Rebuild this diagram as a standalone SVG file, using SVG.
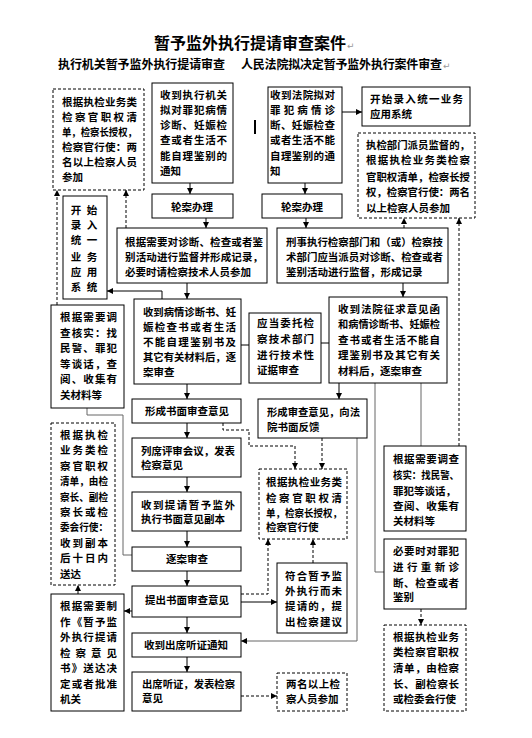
<svg xmlns="http://www.w3.org/2000/svg" width="532" height="738" viewBox="0 0 532 738">
<style>
.box{fill:#fff;stroke:#000;stroke-width:1}
.dbox{fill:#fff;stroke:#000;stroke-width:1;stroke-dasharray:3 2}
.t{font-family:"Noto Sans CJK SC","Noto Sans CJK JP",sans-serif;font-size:10.5px;font-weight:bold;fill:#000}
.c{text-anchor:middle}
.ln{fill:none;stroke:#000;stroke-width:1}
.gl{fill:none;stroke:#666;stroke-width:1}
.dl{fill:none;stroke:#000;stroke-width:1;stroke-dasharray:3 2}
.pm{font-family:"DejaVu Sans",sans-serif;font-size:9px;fill:#999}
</style>
<defs>
<marker id="ah" viewBox="0 0 6 6" refX="6" refY="3" markerWidth="6" markerHeight="6" markerUnits="userSpaceOnUse" orient="auto">
<path d="M0,0 L6,3 L0,6 z" fill="#000"/>
</marker>
</defs>
<rect width="532" height="738" fill="#fff"/>

<g id="title">
<text x="250" y="49" class="t c" style="font-size:16px">暂予监外执行提请审查案件</text>
<text x="347" y="49" class="pm">↵</text>
<text x="58" y="69" class="t" style="font-size:12px" textLength="167" lengthAdjust="spacing">执行机关暂予监外执行提请审查</text>
<text x="241" y="69" class="t" style="font-size:12px" textLength="201" lengthAdjust="spacing">人民法院拟决定暂予监外执行案件审查</text>
<text x="443" y="69" class="pm">↵</text>
</g>

<g id="connectors">
<path class="ln" d="M190,183 V194" marker-end="url(#ah)"/>
<path class="ln" d="M305,183 V194" marker-end="url(#ah)"/>
<path class="ln" d="M342,112 H362" marker-end="url(#ah)"/>
<path class="ln" d="M206,218 V228" marker-end="url(#ah)"/>
<path class="ln" d="M306,218 V228" marker-end="url(#ah)"/>
<path class="ln" d="M403,283 V297" marker-end="url(#ah)"/>
<path class="ln" d="M187,283 V299" marker-end="url(#ah)"/>
<path class="ln" d="M162,299 V291 H107" marker-end="url(#ah)"/>
<path class="ln" d="M241,345 H249"/>
<path class="ln" d="M321,343 H329"/>
<path class="ln" d="M187,384 V399" marker-end="url(#ah)"/>
<path class="ln" d="M339,383 V399" marker-end="url(#ah)"/>
<path class="ln" d="M187,423 V438" marker-end="url(#ah)"/>
<path class="ln" d="M187,477 V492" marker-end="url(#ah)"/>
<path class="ln" d="M187,531 V547" marker-end="url(#ah)"/>
<path class="ln" d="M187,571 V586" marker-end="url(#ah)"/>
<path class="ln" d="M187,617 V633" marker-end="url(#ah)"/>
<path class="ln" d="M187,657 V672" marker-end="url(#ah)"/>
<path class="gl" d="M87,408 V415 H123 V555 H132"/>
<path class="ln" d="M132,611 H124" marker-end="url(#ah)"/>
<path class="dl" d="M78,594 V585" marker-end="url(#ah)"/>
<path class="dl" d="M57,305 V190" marker-end="url(#ah)"/>
<path class="dl" d="M126,228 V190" marker-end="url(#ah)"/>
<path class="dl" d="M404,228 V218" marker-end="url(#ah)"/>
<path class="dl" d="M459,446 V218" marker-end="url(#ah)"/>
<path class="gl" d="M421,383 V446"/>
<path class="gl" d="M375,383 V572 H384"/>
<path class="dl" d="M421,609 V625" marker-end="url(#ah)"/>
<path class="gl" d="M357,438 V641 H241" marker-end="url(#ah)"/>
<path class="dl" d="M223,423 V430 H249 V446 H295 V469" marker-end="url(#ah)"/>
<path class="dl" d="M322,438 V469" marker-end="url(#ah)"/>
<path class="dl" d="M241,594 H268 V539" marker-end="url(#ah)"/>
<path class="dl" d="M313,563 V539" marker-end="url(#ah)"/>
<path class="ln" d="M241,602 H277" marker-end="url(#ah)"/>
<path class="dl" d="M241,696 H277" marker-end="url(#ah)"/>
<path d="M255,120 V134" stroke="#000" stroke-width="2"/>
</g>

<g id="nA">
<rect class="dbox" x="53" y="89" width="91" height="101"/>
<text class="t" x="62" y="106" textLength="75" lengthAdjust="spacing">根据执检业务类</text>
<text class="t" x="62" y="121" textLength="75" lengthAdjust="spacing">检察官职权清</text>
<text class="t" x="62" y="136" textLength="75" lengthAdjust="spacingAndGlyphs">单，检察长授权，</text>
<text class="t" x="62" y="151" textLength="75" lengthAdjust="spacing">检察官行使：两</text>
<text class="t" x="62" y="166" textLength="75" lengthAdjust="spacing">名以上检察人员</text>
<text class="t" x="62" y="181">参加</text>
</g>

<g id="nB">
<rect class="box" x="152" y="83" width="81" height="100"/>
<text class="t" x="160" y="99" textLength="67" lengthAdjust="spacing">收到执行机关</text>
<text class="t" x="160" y="114" textLength="67" lengthAdjust="spacing">拟对罪犯病情</text>
<text class="t" x="160" y="129" textLength="67" lengthAdjust="spacing">诊断、妊娠检</text>
<text class="t" x="160" y="144" textLength="67" lengthAdjust="spacing">查或者生活不</text>
<text class="t" x="160" y="160" textLength="67" lengthAdjust="spacing">能自理鉴别的</text>
<text class="t" x="160" y="175">通知</text>
</g>

<g id="nC">
<rect class="box" x="152" y="194" width="81" height="24"/>
<text class="t c" x="192" y="211">轮案办理</text>
</g>

<g id="nD">
<rect class="box" x="268" y="87" width="74" height="96"/>
<text class="t" x="270" y="99" textLength="65" lengthAdjust="spacing">收到法院拟对</text>
<text class="t" x="270" y="114" textLength="65" lengthAdjust="spacing">罪犯病情诊</text>
<text class="t" x="270" y="129" textLength="65" lengthAdjust="spacing">断、妊娠检查</text>
<text class="t" x="270" y="144" textLength="65" lengthAdjust="spacing">或者生活不能</text>
<text class="t" x="270" y="160" textLength="65" lengthAdjust="spacing">自理鉴别的通</text>
<text class="t" x="270" y="175">知</text>
</g>

<g id="nE">
<rect class="box" x="362" y="87" width="108" height="39"/>
<text class="t" x="370" y="103" textLength="93" lengthAdjust="spacing">开始录入统一业务</text>
<text class="t" x="370" y="118">应用系统</text>
</g>

<g id="nF">
<rect class="dbox" x="358" y="133" width="117" height="85"/>
<text class="t" x="366" y="149" textLength="104" lengthAdjust="spacingAndGlyphs">执检部门派员监督的，</text>
<text class="t" x="366" y="164" textLength="104" lengthAdjust="spacing">根据执检业务类检察</text>
<text class="t" x="366" y="181" textLength="104" lengthAdjust="spacingAndGlyphs">官职权清单，检察长授</text>
<text class="t" x="366" y="196" textLength="104" lengthAdjust="spacingAndGlyphs">权，检察官行使：两名</text>
<text class="t" x="366" y="212">以上检察人员参加</text>
</g>

<g id="nG">
<rect class="box" x="262" y="194" width="80" height="24"/>
<text class="t c" x="302" y="211">轮案办理</text>
</g>

<g id="nH">
<rect class="box" x="117" y="228" width="150" height="55"/>
<text class="t" x="125" y="246" textLength="138" lengthAdjust="spacing">根据需要对诊断、检查或者鉴</text>
<text class="t" x="125" y="261" textLength="138" lengthAdjust="spacing">别活动进行监督并形成记录，</text>
<text class="t" x="125" y="276">必要时请检察技术人员参加</text>
</g>

<g id="nI">
<rect class="box" x="63" y="196" width="44" height="103"/>
<text class="t c" x="76" y="214">开</text><text class="t c" x="92" y="214">始</text>
<text class="t c" x="76" y="229">录</text><text class="t c" x="92" y="229">入</text>
<text class="t c" x="76" y="244">统</text><text class="t c" x="92" y="244">一</text>
<text class="t c" x="76" y="261">业</text><text class="t c" x="92" y="261">务</text>
<text class="t c" x="76" y="276">应</text><text class="t c" x="92" y="276">用</text>
<text class="t c" x="76" y="291">系</text><text class="t c" x="92" y="291">统</text>
</g>

<g id="nN">
<rect class="box" x="277" y="228" width="171" height="55"/>
<text class="t" x="286" y="246" textLength="157" lengthAdjust="spacingAndGlyphs">刑事执行检察部门和（或）检察技</text>
<text class="t" x="286" y="261" textLength="157" lengthAdjust="spacingAndGlyphs">术部门应当派员对诊断、检查或者</text>
<text class="t" x="286" y="276">鉴别活动进行监督，形成记录</text>
</g>

<g id="nK">
<rect class="box" x="51" y="305" width="73" height="103"/>
<text class="t" x="60" y="321" textLength="57" lengthAdjust="spacing">根据需要调</text>
<text class="t" x="60" y="337" textLength="57" lengthAdjust="spacing">查核实：找</text>
<text class="t" x="60" y="352" textLength="57" lengthAdjust="spacing">民警、罪犯</text>
<text class="t" x="60" y="368" textLength="57" lengthAdjust="spacing">等谈话，查</text>
<text class="t" x="60" y="383" textLength="57" lengthAdjust="spacing">阅、收集有</text>
<text class="t" x="60" y="399">关材料等</text>
</g>

<g id="nJ">
<rect class="box" x="134" y="299" width="107" height="85"/>
<text class="t" x="143" y="316" textLength="93" lengthAdjust="spacingAndGlyphs">收到病情诊断书、妊</text>
<text class="t" x="143" y="331" textLength="93" lengthAdjust="spacing">娠检查书或者生活</text>
<text class="t" x="143" y="346" textLength="93" lengthAdjust="spacing">不能自理鉴别书及</text>
<text class="t" x="143" y="361" textLength="93" lengthAdjust="spacingAndGlyphs">其它有关材料后，逐</text>
<text class="t" x="143" y="376">案审查</text>
</g>

<g id="nL">
<rect class="box" x="249" y="313" width="72" height="70"/>
<text class="t" x="257" y="327" textLength="57" lengthAdjust="spacing">应当委托检</text>
<text class="t" x="257" y="343" textLength="57" lengthAdjust="spacing">察技术部门</text>
<text class="t" x="257" y="359" textLength="57" lengthAdjust="spacing">进行技术性</text>
<text class="t" x="257" y="374">证据审查</text>
</g>

<g id="nM">
<rect class="box" x="329" y="297" width="118" height="86"/>
<text class="t" x="338" y="313" textLength="102" lengthAdjust="spacing">收到法院征求意见函</text>
<text class="t" x="338" y="328" textLength="102" lengthAdjust="spacingAndGlyphs">和病情诊断书、妊娠检</text>
<text class="t" x="338" y="344" textLength="102" lengthAdjust="spacing">查书或者生活不能自</text>
<text class="t" x="338" y="359" textLength="102" lengthAdjust="spacing">理鉴别书及其它有关</text>
<text class="t" x="338" y="375">材料后，逐案审查</text>
</g>

<g id="nO">
<rect class="box" x="132" y="399" width="109" height="24"/>
<text class="t c" x="187" y="415">形成书面审查意见</text>
</g>

<g id="nS">
<rect class="box" x="258" y="399" width="109" height="39"/>
<text class="t" x="267" y="416" textLength="93" lengthAdjust="spacingAndGlyphs">形成审查意见，向法</text>
<text class="t" x="267" y="431">院书面反馈</text>
</g>

<g id="nU">
<rect class="dbox" x="51" y="423" width="64" height="162"/>
<text class="t" x="60" y="439" textLength="48" lengthAdjust="spacing">根据执检</text>
<text class="t" x="60" y="454" textLength="48" lengthAdjust="spacing">业务类检</text>
<text class="t" x="60" y="470" textLength="48" lengthAdjust="spacing">察官职权</text>
<text class="t" x="60" y="485" textLength="48" lengthAdjust="spacingAndGlyphs">清单，由检</text>
<text class="t" x="60" y="501" textLength="48" lengthAdjust="spacingAndGlyphs">察长、副检</text>
<text class="t" x="60" y="516" textLength="48" lengthAdjust="spacing">察长或检</text>
<text class="t" x="60" y="531" textLength="48" lengthAdjust="spacingAndGlyphs">委会行使：</text>
<text class="t" x="60" y="547" textLength="48" lengthAdjust="spacing">收到副本</text>
<text class="t" x="60" y="562" textLength="48" lengthAdjust="spacing">后十日内</text>
<text class="t" x="60" y="578">送达</text>
</g>

<g id="nV">
<rect class="box" x="132" y="438" width="109" height="39"/>
<text class="t" x="141" y="455" textLength="94" lengthAdjust="spacingAndGlyphs">列席评审会议，发表</text>
<text class="t" x="141" y="469">检察意见</text>
</g>

<g id="nW">
<rect class="box" x="132" y="492" width="109" height="39"/>
<text class="t" x="141" y="509" textLength="94" lengthAdjust="spacing">收到提请暂予监外</text>
<text class="t" x="141" y="523">执行书面意见副本</text>
</g>

<g id="nX">
<rect class="box" x="132" y="547" width="109" height="24"/>
<text class="t c" x="187" y="563">逐案审查</text>
</g>

<g id="nR">
<rect class="dbox" x="259" y="469" width="88" height="70"/>
<text class="t" x="266" y="486" textLength="76" lengthAdjust="spacing">根据执检业务类</text>
<text class="t" x="266" y="502" textLength="76" lengthAdjust="spacing">检察官职权清</text>
<text class="t" x="266" y="517" textLength="76" lengthAdjust="spacingAndGlyphs">单，检察长授权，</text>
<text class="t" x="266" y="531">检察官行使</text>
</g>

<g id="nP">
<rect class="box" x="384" y="446" width="82" height="85"/>
<text class="t" x="393" y="463" textLength="66" lengthAdjust="spacing">根据需要调查</text>
<text class="t" x="393" y="479" textLength="66" lengthAdjust="spacingAndGlyphs">核实：找民警、</text>
<text class="t" x="393" y="495">罪犯等谈话，</text>
<text class="t" x="393" y="510" textLength="66" lengthAdjust="spacing">查阅、收集有</text>
<text class="t" x="393" y="525">关材料等</text>
</g>

<g id="nQ">
<rect class="box" x="384" y="539" width="82" height="70"/>
<text class="t" x="393" y="555" textLength="66" lengthAdjust="spacing">必要时对罪犯</text>
<text class="t" x="393" y="571" textLength="66" lengthAdjust="spacing">进行重新诊</text>
<text class="t" x="393" y="587" textLength="66" lengthAdjust="spacing">断、检查或者</text>
<text class="t" x="393" y="601">鉴别</text>
</g>

<g id="nY">
<rect class="box" x="132" y="586" width="109" height="31"/>
<text class="t c" x="187" y="604">提出书面审查意见</text>
</g>

<g id="nZ">
<rect class="box" x="51" y="594" width="73" height="117"/>
<text class="t" x="60" y="610" textLength="57" lengthAdjust="spacing">根据需要制</text>
<text class="t" x="60" y="626" textLength="57" lengthAdjust="spacing">作《暂予监</text>
<text class="t" x="60" y="641" textLength="57" lengthAdjust="spacing">外执行提请</text>
<text class="t" x="60" y="657" textLength="57" lengthAdjust="spacing">检察意见</text>
<text class="t" x="60" y="672" textLength="57" lengthAdjust="spacing">书》送达决</text>
<text class="t" x="60" y="688" textLength="57" lengthAdjust="spacing">定或者批准</text>
<text class="t" x="60" y="703">机关</text>
</g>

<g id="nDD">
<rect class="box" x="277" y="563" width="70" height="70"/>
<text class="t" x="285" y="580" textLength="57" lengthAdjust="spacing">符合暂予监</text>
<text class="t" x="285" y="595" textLength="57" lengthAdjust="spacing">外执行而未</text>
<text class="t" x="285" y="610" textLength="57" lengthAdjust="spacing">提请的，提</text>
<text class="t" x="285" y="626" textLength="57" lengthAdjust="spacing">出检察建议</text>
</g>

<g id="nAA">
<rect class="box" x="132" y="633" width="109" height="24"/>
<text class="t c" x="186" y="649">收到出席听证通知</text>
</g>

<g id="nBB">
<rect class="box" x="132" y="672" width="109" height="39"/>
<text class="t" x="142" y="688" textLength="93" lengthAdjust="spacingAndGlyphs">出席听证，发表检察</text>
<text class="t" x="142" y="702">意见</text>
</g>

<g id="nT">
<rect class="dbox" x="384" y="625" width="82" height="86"/>
<text class="t" x="393" y="641" textLength="66" lengthAdjust="spacing">根据执检业务</text>
<text class="t" x="393" y="656" textLength="66" lengthAdjust="spacing">类检察官职权</text>
<text class="t" x="393" y="672" textLength="66" lengthAdjust="spacing">清单，由检察</text>
<text class="t" x="393" y="688" textLength="66" lengthAdjust="spacing">长、副检察长</text>
<text class="t" x="393" y="703">或检委会行使</text>
</g>

<g id="nCC">
<rect class="dbox" x="277" y="673" width="70" height="38"/>
<text class="t" x="286" y="688" textLength="54" lengthAdjust="spacing">两名以上检</text>
<text class="t" x="286" y="703">察人员参加</text>
</g>
</svg>
